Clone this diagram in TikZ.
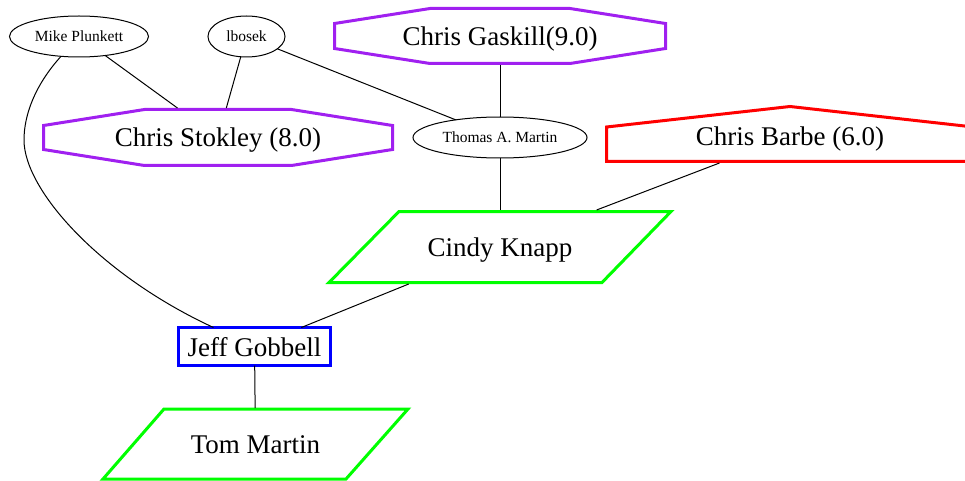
\documentclass[tikz,border=0pt]{standalone}
\usepackage{fontspec}
\setmainfont{Liberation Serif}
\usetikzlibrary{shapes.geometric}
\definecolor{gvpurple}{RGB}{160,32,240}
\definecolor{gvgreen}{RGB}{0,255,0}
\definecolor{gvred}{RGB}{255,0,0}
\definecolor{gvblue}{RGB}{0,0,255}
\tikzset{
  person/.style={ellipse, draw, line width=1pt, inner sep=0pt, outer sep=0pt,
                 text height=14pt, text depth=3pt,
                 font=\fontsize{15.5}{18}\selectfont},
  big/.style={rectangle, inner sep=0pt, outer sep=0pt,
              text height=23pt, text depth=4pt,
              font=\fontsize{27}{32}\selectfont},
  link/.style={draw, line width=1pt},
  rated/.style={draw=gvpurple, line width=3pt, line join=miter},
  housed/.style={draw=gvred, line width=3pt, line join=miter},
  slanted/.style={draw=gvgreen, line width=3pt, line join=miter},
  boxed/.style={draw=gvblue, line width=3pt}
}
% octagon outline around a node: #1 node, #2 half width, #3 half height,
% #4 half length of top/bottom edge, #5 half length of the side edges
\newcommand\octoline[5]{%
  \draw[rated] ([shift={(-#4,-#3)}]#1.center) -- ([shift={(#4,-#3)}]#1.center)
    -- ([shift={(#2,-#5)}]#1.center) -- ([shift={(#2,#5)}]#1.center)
    -- ([shift={(#4,#3)}]#1.center) -- ([shift={(-#4,#3)}]#1.center)
    -- ([shift={(-#2,#5)}]#1.center) -- ([shift={(-#2,-#5)}]#1.center) -- cycle;}
% parallelogram outline: #1 node, #2 style, #3 half height,
% #4 top-left x, #5 top-right x, #6 bottom-right x, #7 bottom-left x
\newcommand\paraline[7]{%
  \draw[#2] ([shift={(#4,-#3)}]#1.center) -- ([shift={(#5,-#3)}]#1.center)
    -- ([shift={(#6,#3)}]#1.center) -- ([shift={(#7,#3)}]#1.center) -- cycle;}
\begin{document}
\begin{tikzpicture}[x=1pt,y=-1pt]
\clip (0,0) rectangle (965,481);
\fill[white] (0,0) rectangle (965,481);

% people
\node[person, minimum width=139pt, minimum height=41pt] (mp) at (79,36.5) {Mike Plunkett};
\node[person, minimum width=77pt, minimum height=41pt] (lb) at (246.5,36.5) {lbosek};
\node[person, minimum width=174pt, minimum height=41pt] (tam) at (500,137.5) {Thomas A. Martin};

% labelled nodes (outlines drawn below)
\node[big, minimum width=352pt, minimum height=59pt] (cs) at (218,137.5) {Chris Stokley (8.0)};
\node[big, minimum width=334pt, minimum height=58pt] (cg) at (500,36) {Chris Gaskill(9.0)};
\node[big, minimum width=370pt, minimum height=54pt] (cb) at (790,136) {Chris Barbe (6.0)};
\node[big, minimum width=346pt, minimum height=74pt] (ck) at (500,247) {Cindy Knapp};
\node[big, boxed, minimum width=152pt, minimum height=38pt] (jg) at (254.5,346.5) {Jeff Gobbell};
\node[big, minimum width=309pt, minimum height=72pt] (tm) at (255.5,444) {Tom Martin};

% outlines
\octoline{cs}{174.5}{28}{73.5}{12}
\octoline{cg}{165.5}{27.5}{70}{12.5}
\draw[housed] ([shift={(0,-29.5)}]cb.center) -- ([shift={(183.5,-9)}]cb.center)
  -- ([shift={(183.5,25.5)}]cb.center) -- ([shift={(-183.5,25.5)}]cb.center)
  -- ([shift={(-183.5,-9)}]cb.center) -- cycle;
\paraline{ck}{slanted}{35.5}{-101}{171}{102}{-171}
\paraline{tm}{slanted}{35}{-91.5}{152.5}{90.5}{-152.5}

% connections
\draw[link] (mp) -- (cs);
\draw[link] (lb) -- (cs);
\draw[link] (lb) -- (tam);
\draw[link] (cg) -- (tam);
\draw[link] (tam) -- (ck);
\draw[link] (cb) -- (ck);
\draw[link] (ck) -- (jg);
\draw[link] (jg) -- (tm);
\coordinate (bend) at (24,140);
\draw[link] (mp) .. controls (35,85) and (24,115) .. (bend)
  .. controls (24,190) and (100,275) .. (jg);
\end{tikzpicture}
\end{document}
